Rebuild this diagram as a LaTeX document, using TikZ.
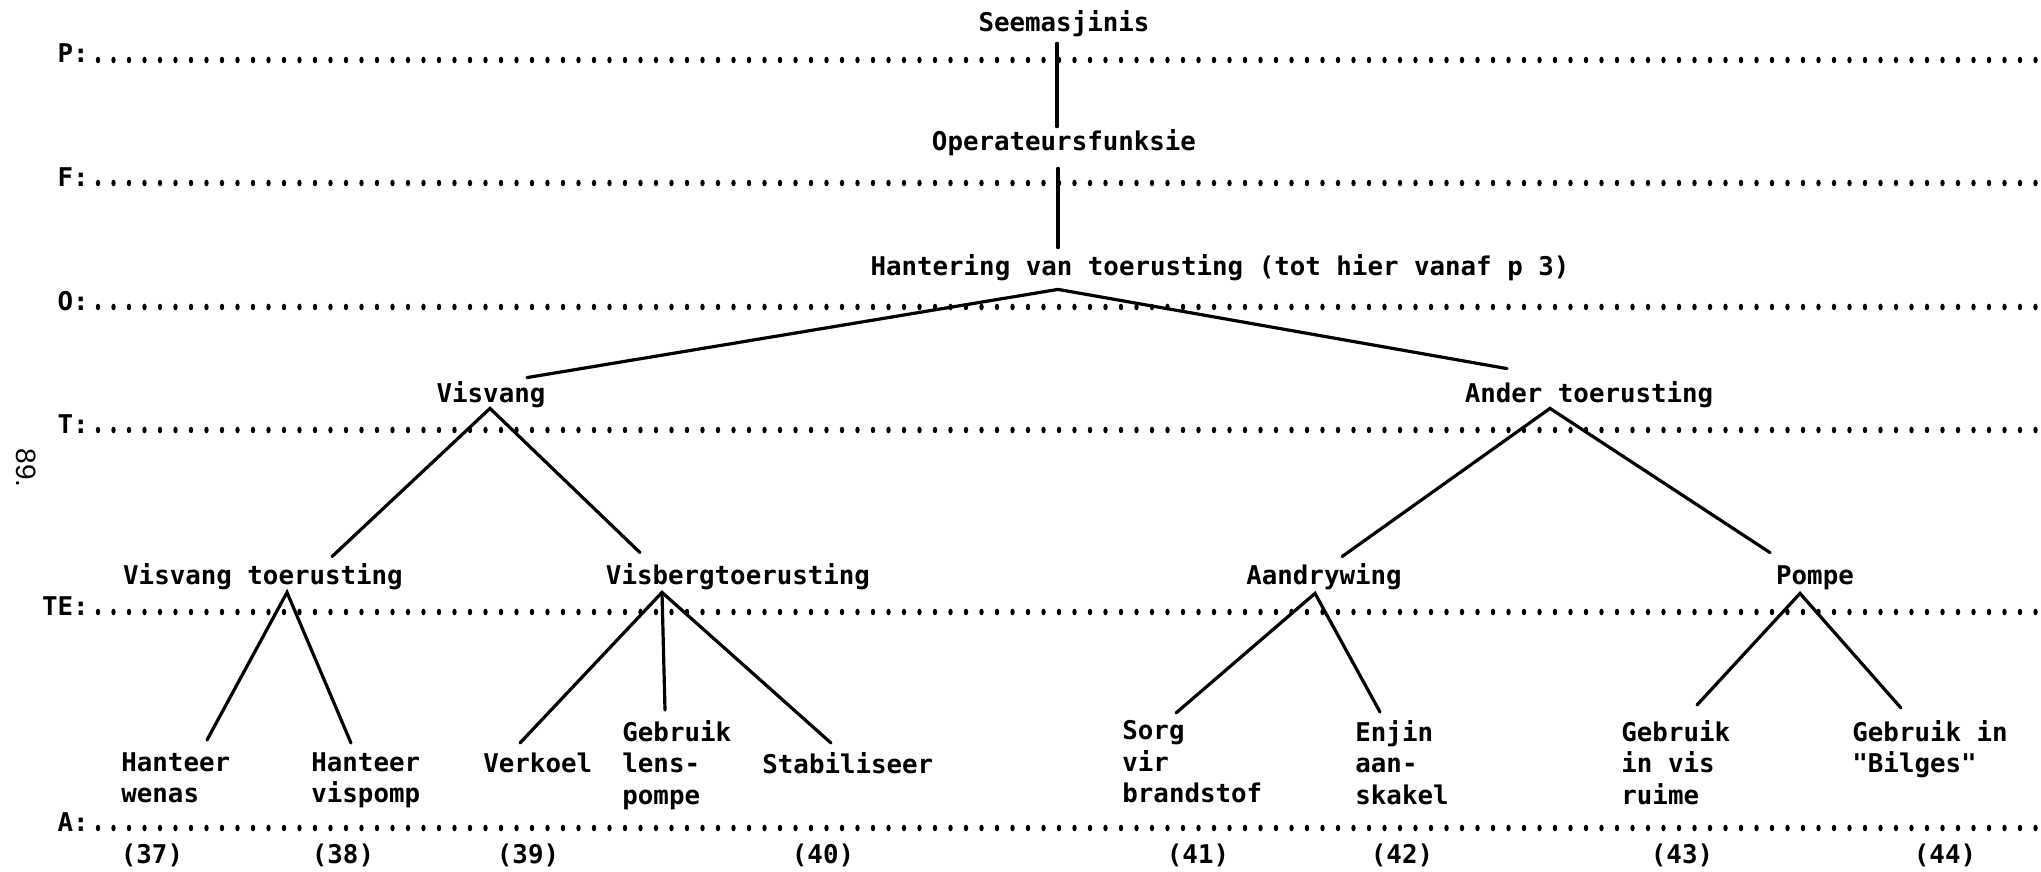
\documentclass[tikz,border=0pt]{standalone}
\usepackage{fontspec}
\usepackage{tikz}
\usetikzlibrary{calc}
\newfontfamily\tw{DejaVu Sans Mono}
\newfontfamily\sansnr{Liberation Sans}
\newcommand{\typefont}{\tw\bfseries\fontsize{12.9pt}{15.75pt}\selectfont}
\newcommand{\firstrow}{\rule{0pt}{9.5pt}}

\begin{document}
\begin{tikzpicture}[x=0.5pt, y=-0.5pt,
    lbl/.style={font=\typefont, inner sep=0pt, text height=9.5pt, text depth=3pt, anchor=base},
    leaf/.style={font=\typefont, inner sep=0pt, align=left, anchor=north west},
    lvl/.style={font=\typefont, inner sep=0pt, anchor=base east},
    num/.style={font=\typefont, inner sep=0pt, anchor=base},
    branch/.style={line width=1.6pt, line cap=round}]
        \useasboundingbox (0,0) rectangle (2041,872);
        % vlakke
        \foreach \nm/\lv/\y in {p/P/60, f/F/183, o/O/307, t/T/430, te/TE/612, a/A/828} {
            \node[lvl] (lv-\nm) at (89,\y+3) {\lv:};
            \foreach \i in {0,...,125}
                \fill (98+15.5*\i,\y) ellipse [x radius=2.2, y radius=3.3];
        }
        \node[font=\sansnr\fontsize{14pt}{16pt}\selectfont, inner sep=0pt, rotate=-90] (pagnr) at (26,468) {89.};
        % knope
        \node[lbl] (seem) at (1064,32) {Seemasjinis};
        \node[lbl] (oper) at (1064,150) {Operateursfunksie};
        \node[lbl] (hant) at (1220,275) {Hantering van toerusting (tot hier vanaf p 3)};
        \node[lbl] (visvang) at (491,402) {Visvang};
        \node[lbl] (ander) at (1589,402) {Ander toerusting};
        \node[lbl] (vtoer) at (263,584) {Visvang toerusting};
        \node[lbl] (vberg) at (738,584) {Visbergtoerusting};
        \node[lbl] (aandr) at (1324,584) {Aandrywing};
        \node[lbl] (pompe) at (1815,584) {Pompe};
        % blare
        \node[leaf] (wenas) at (121,752) {\firstrow Hanteer\\wenas};
        \node[leaf] (vispomp) at (311,752) {\firstrow Hanteer\\vispomp};
        \node[leaf] (verkoel) at (483,752) {\firstrow Verkoel};
        \node[leaf] (lens) at (622,720) {\firstrow Gebruik\\lens-\\pompe};
        \node[leaf] (stab) at (762,752) {\firstrow Stabiliseer};
        \node[leaf] (sorg) at (1122,720) {\firstrow Sorg\\vir\\brandstof};
        \node[leaf] (enjin) at (1355,720) {\firstrow Enjin\\aan-\\skakel};
        \node[leaf] (ruime) at (1621,720) {\firstrow Gebruik\\in vis\\ruime};
        \node[leaf] (bilges) at (1852,720) {\firstrow Gebruik in\\"Bilges"};
        % nommers
        \node[num] (n37) at (152,863) {(37)};
        \node[num] (n38) at (343,863) {(38)};
        \node[num] (n39) at (528,863) {(39)};
        \node[num] (n40) at (823,863) {(40)};
        \node[num] (n41) at (1198,863) {(41)};
        \node[num] (n42) at (1402,863) {(42)};
        \node[num] (n43) at (1682,863) {(43)};
        \node[num] (n44) at (1945,863) {(44)};
        % verbindings
        \draw[branch] ($(seem.south)+(-7,5)$) -- ($(oper.north)+(-7,-4)$);
        \draw[branch] ($(oper.south)+(-6,12)$) -- ($(hant.north)+(-162,-8)$);
        \draw[branch] ($(visvang.north)+(36,-5)$) -- ($(hant.south)+(-162,8)$) -- ($(ander.north)+(-82,-14)$);
        \draw[branch] ($(vtoer.north)+(69,-8)$) -- ($(visvang.south)+(-1,0)$) -- ($(vberg.north)+(-98,-12)$);
        \draw[branch] ($(aandr.north)+(18,-8)$) -- ($(ander.south)+(-39,0)$) -- ($(pompe.north)+(-45,-12)$);
        \draw[branch] ($(wenas.north west)+(86,-12)$) -- ($(vtoer.south)+(24,2)$) -- ($(vispomp.north west)+(40,-9)$);
        \draw[branch] ($(verkoel.north west)+(37,-9)$) -- ($(vberg.south)+(-76,2)$) -- ($(stab.north west)+(69,-9)$);
        \draw[branch] ($(vberg.south)+(-76,2)$) -- ($(lens.north west)+(43,-10)$);
        \draw[branch] ($(sorg.north west)+(54,-7)$) -- ($(aandr.south)+(-9,3)$) -- ($(enjin.north west)+(25,-8)$);
        \draw[branch] ($(ruime.north west)+(76,-15)$) -- ($(pompe.south)+(-15,3)$) -- ($(bilges.north west)+(49,-12)$);
    \end{tikzpicture}
\end{document}
